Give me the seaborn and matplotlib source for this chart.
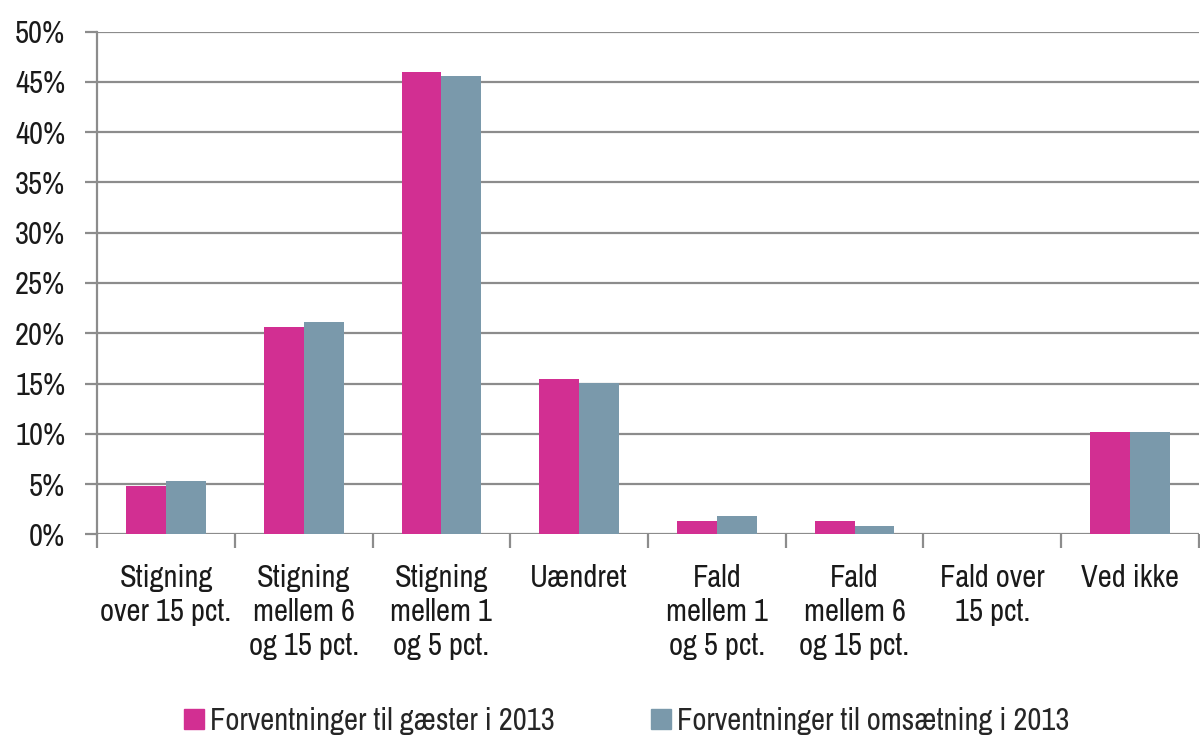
import matplotlib
matplotlib.use("Agg")
import matplotlib.pyplot as plt
from matplotlib import font_manager
from matplotlib.ticker import MultipleLocator, FuncFormatter
from matplotlib.lines import Line2D
import pandas as pd
import seaborn as sns

categories = ["Stigning\nover 15 pct.", "Stigning\nmellem 6\nog 15 pct.", "Stigning\nmellem 1\nog 5 pct.",
              "Uændret", "Fald\nmellem 1\nog 5 pct.", "Fald\nmellem 6\nog 15 pct.",
              "Fald over\n15 pct.", "Ved ikke"]
series_names = ["Forventninger til gæster i 2013", "Forventninger til omsætning i 2013"]
gaester = [4.8, 20.6, 46.0, 15.5, 1.3, 1.3, 0.0, 10.2]
omsaetning = [5.3, 21.1, 45.6, 15.1, 1.8, 0.8, 0.0, 10.2]
colors = ["#D22F92", "#7A99AB"]

df = pd.DataFrame({
    "kategori": categories * 2,
    "serie": [series_names[0]] * len(categories) + [series_names[1]] * len(categories),
    "andel": gaester + omsaetning,
})

# look for a narrow font, the original uses a condensed face
narrow = None
stretch = "normal"
for f in font_manager.fontManager.ttflist:
    if "Narrow" in f.name or "Condensed" in f.name:
        narrow = f.name
        break
if narrow is None:
    for f in font_manager.fontManager.ttflist:
        if f.stretch in ("condensed", "semi-condensed", 600, 500) or "ondensed" in f.fname:
            narrow = f.name
            stretch = "condensed"
            break

sns.set_style("white")
plt.rcParams["font.family"] = ([narrow] if narrow else []) + ["DejaVu Sans"]
plt.rcParams["font.stretch"] = stretch

fig = plt.figure(figsize=(12, 7.36), dpi=100)
ax = fig.add_axes([0.081, 0.274, 0.918, 0.683])

sns.barplot(data=df, x="kategori", y="andel", hue="serie", palette=colors,
            width=0.58, gap=0, saturation=1, ax=ax, legend=False, zorder=3, linewidth=0)

grid_col = "#8C8C8C"
ax.set_ylim(0, 50)
ax.set_xlim(-0.5, len(categories) - 0.5)
ax.yaxis.set_major_locator(MultipleLocator(5))
ax.yaxis.set_major_formatter(FuncFormatter(lambda v, p: f"{v:.0f}%"))
ax.grid(axis="y", color=grid_col, lw=1.6, zorder=0)
ax.set_axisbelow(True)

for s in ["top", "right", "bottom"]:
    ax.spines[s].set_visible(False)
ax.spines["left"].set_color(grid_col)
ax.spines["left"].set_linewidth(1.6)

fs = 22 if narrow else 17
ax.tick_params(axis="y", which="major", length=9, width=1.6, color=grid_col,
               direction="out", left=True, labelsize=fs, labelcolor="#1a1a1a", pad=14)
ax.tick_params(axis="x", which="major", length=0, labelsize=fs, labelcolor="#1a1a1a", pad=21)
ax.set_xticks([i - 0.5 for i in range(len(categories) + 1)], minor=True)
ax.tick_params(axis="x", which="minor", length=10, width=1.6, color=grid_col, bottom=True)
for lbl in ax.get_xticklabels():
    lbl.set_linespacing(1.28)
    lbl.set_verticalalignment("top")
ax.set_xlabel("")
ax.set_ylabel("")

handles = [Line2D([], [], marker="s", ls="", markersize=15, color=c) for c in colors]
fig.legend(handles, series_names, loc="lower center", bbox_to_anchor=(0.52, -0.036), ncol=2,
           frameon=False, fontsize=fs, handletextpad=0.0, columnspacing=3.0, handlelength=1.0)

fig.savefig("out.png", dpi=100)
